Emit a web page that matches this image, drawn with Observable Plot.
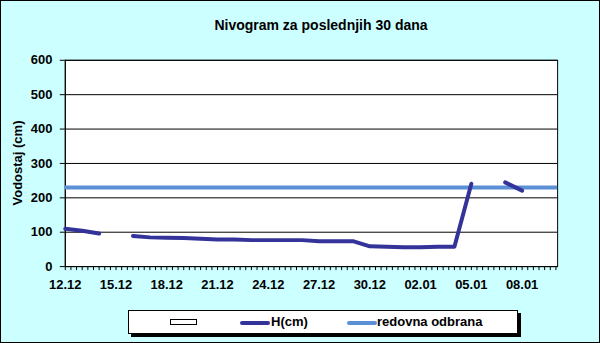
<!DOCTYPE html>
<html>
<head>
<meta charset="utf-8">
<script src="https://cdn.jsdelivr.net/npm/d3@7"></script>
<script src="https://cdn.jsdelivr.net/npm/@observablehq/plot@0.6"></script>
<style>
  html, body { margin: 0; padding: 0; background: #fff; }
  #chart { position: relative; width: 600px; height: 343px; background: #CCFFFF; border: 1px solid #000; box-sizing: border-box; overflow: hidden; font-family: Arial, "Liberation Sans", sans-serif; }
  #chart svg { position: absolute; left: -1px; top: -1px; }
  #title { position: absolute; left: 0; width: 640px; top: 16px; text-align: center; font-weight: bold; font-size: 14px; color: #000; }
  #ylabel { position: absolute; left: 16px; top: 162px; transform: translate(-50%, -50%) rotate(-90deg); font-weight: bold; font-size: 13px; white-space: nowrap; }
  #legend { position: absolute; left: 127px; top: 309px; width: 390px; height: 24px; background: #fff; border: 1px solid #000; box-shadow: 3px 3px 0 #000; box-sizing: border-box; font-weight: bold; font-size: 13px; }
  .sw { position: absolute; }
  .lt { position: absolute; top: 3px; }
</style>
</head>
<body>
<div id="chart">
  <div id="title"></div>
  <div id="ylabel"></div>
  <div id="legend"></div>
</div>
<script>
const title = "Nivogram za poslednjih 30 dana";
const yLabel = "Vodostaj (cm)";
const dates = ["12.12","13.12","14.12","15.12","16.12","17.12","18.12","19.12","20.12","21.12",
  "22.12","23.12","24.12","25.12","26.12","27.12","28.12","29.12","30.12","31.12",
  "01.01","02.01","03.01","04.01","05.01","06.01","07.01","08.01","09.01","10.01"];
const H = [110, 104, 96, null, 89, 85, 84, 83, 81, 79,
  79, 77, 77, 77, 77, 74, 74, 74, 59, 58,
  56, 56, 58, 58, 241, null, 245, 221, null, null];
const redovnaOdbrana = 230;
const yTicks = [0, 100, 200, 300, 400, 500, 600];
const labelEvery = 3;
const minorPerDay = 3;
const seriesNames = ["", "H(cm)", "redovna odbrana"];
const colH = "#333399";
const colR = "#5b8fd6";

const data = dates.map((d, i) => ({i, date: d, h: H[i]}));
const minorTicks = d3.range(0, (dates.length - 1) * minorPerDay + 1).map(k => k / minorPerDay);

const plot = Plot.plot({
  width: 600, height: 343,
  marginLeft: 65, marginRight: 41, marginTop: 60, marginBottom: 76,
  style: {background: "transparent", fontFamily: "Arial, 'Liberation Sans', sans-serif", fontSize: "13px", fontWeight: "bold", color: "#000", overflow: "visible"},
  x: {domain: [0, dates.length - 1 + 0.1], axis: null},
  y: {domain: [0, 600], axis: null},
  marks: [
    Plot.frame({fill: "white", stroke: "black", strokeWidth: 1}),
    Plot.ruleY(yTicks, {stroke: "black", strokeWidth: 1}),
    Plot.axisY({ticks: yTicks, tickSize: 5, tickPadding: 8, label: null, stroke: "black", fill: "black", fontWeight: "bold", fontSize: 13}),
    Plot.axisX({ticks: minorTicks, tickSize: 4, tickPadding: 9, label: null, stroke: "black",
      tickFormat: d => { const k = Math.round(d * minorPerDay); return (k % (labelEvery * minorPerDay) === 0) ? dates[k / minorPerDay] : ""; },
      fontWeight: "bold", fontSize: 13}),
    Plot.ruleX([0], {stroke: "black"}),
    Plot.ruleY([redovnaOdbrana], {stroke: colR, strokeWidth: 4}),
    Plot.line(data, {x: "i", y: "h", stroke: colH, strokeWidth: 4, curve: "linear"})
  ]
});
const chart = document.getElementById("chart");
chart.insertBefore(plot, chart.firstChild);
document.getElementById("title").textContent = title;
document.getElementById("ylabel").textContent = yLabel;

const legend = document.getElementById("legend");
legend.innerHTML = `
  <div class="sw" style="left:41px;top:8px;width:27px;height:6px;border:1px solid #000;background:#fff;box-sizing:border-box;"></div>
  <div class="sw" style="left:111px;top:10px;width:30px;height:4px;background:${colH};border-radius:2px;"></div>
  <div class="lt" style="left:142px;">${seriesNames[1]}</div>
  <div class="sw" style="left:218px;top:10px;width:30px;height:4px;background:${colR};border-radius:2px;"></div>
  <div class="lt" style="left:248px;">${seriesNames[2]}</div>`;
</script>
</body>
</html>
